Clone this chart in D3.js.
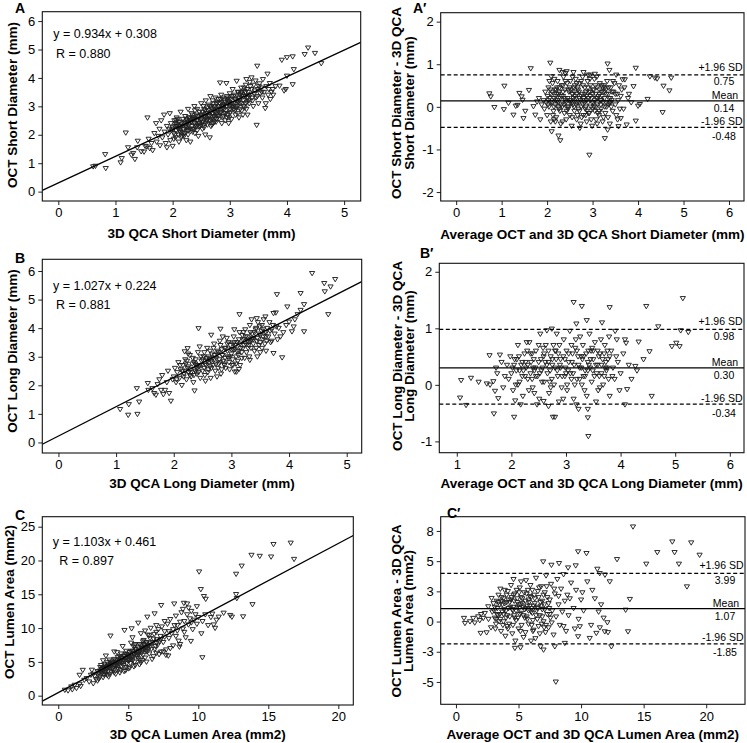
<!DOCTYPE html>
<html><head><meta charset="utf-8">
<script src="https://cdn.jsdelivr.net/npm/d3@7"></script>
<style>body{margin:0;background:#fff} svg text{font-family:"Liberation Sans",Arial,sans-serif;fill:#000}</style>
</head><body><svg id="c" width="747" height="743"></svg>
<script>
// ---------------- DATA ----------------
const panelLetters = ["A","A\u2032","B","B\u2032","C","C\u2032"];
const xTitles = ["3D QCA Short Diameter (mm)","Average OCT and 3D QCA Short Diameter (mm)","3D QCA Long Diameter (mm)","Average OCT and 3D QCA Long Diameter (mm)","3D QCA Lumen Area (mm2)","Average OCT and 3D QCA Lumen Area (mm2)"];
const yTitles = [["OCT Short Diameter (mm)"],["OCT Short Diameter - 3D QCA","Short Diameter (mm)"],["OCT Long Diameter (mm)"],["OCT Long Diameter - 3D QCA","Long Diameter (mm)"],["OCT Lumen Area (mm2)"],["OCT Lumen Area - 3D QCA","Lumen Area (mm2)"]];
const fitSlopes = [0.934, 1.027, 1.103];
const fitIntercepts = [0.308, 0.224, 0.461];
const fitR = ["0.880","0.881","0.897"];
const fitText = ["y = 0.934x + 0.308","y = 1.027x + 0.224","y = 1.103x + 0.461"];
const baMean = [0.14, 0.30, 1.07];
const baUpper = [0.75, 0.98, 3.99];
const baLower = [-0.48, -0.34, -1.85];
const baMeanText = ["0.14","0.30","1.07"];
const baUpperText = ["0.75","0.98","3.99"];
const baLowerText = ["-0.48","-0.34","-1.85"];
const ticksAx = [0,1,2,3,4,5], ticksAy = [0,1,2,3,4,5,6];
const ticksA2x = [0,1,2,3,4,5,6], ticksA2y = [-2,-1,0,1,2];
const ticksBx = [0,1,2,3,4,5], ticksBy = [0,1,2,3,4,5,6];
const ticksB2x = [1,2,3,4,5,6], ticksB2y = [-1,0,1,2];
const ticksCx = [0,5,10,15,20], ticksCy = [0,5,10,15,20,25];
const ticksC2x = [0,5,10,15,20], ticksC2y = [-5,-2.5,0,2.5,5,7.5];

const aPoints = [[0.61,0.88],[0.65,0.9],[0.83,0.82],[0.82,1.31],[1.09,1.02],[1.11,1.17],[1.18,2.07],[1.22,1.55],[1.28,1.29],[1.31,1.35],[1.34,1.14],[1.39,1.78],[1.38,1.55],[1.45,1.41],[1.5,1.4],[1.52,1.6],[1.55,1.58],[1.56,2.6],[1.58,1.85],[1.6,1.52],[1.63,1.7],[1.65,1.45],[1.68,2.05],[1.71,2.4],[1.72,1.75],[1.75,1.95],[1.77,2.2],[1.78,1.62],[1.8,2.5],[1.82,1.9],[1.85,2.7],[1.86,2.1],[1.88,1.7],[1.9,2.3],[1.9,1.55],[1.92,2.0],[1.94,2.2],[1.95,2.75],[1.96,1.8],[1.97,2.4],[1.98,2.15],[2.0,1.6],[2.0,2.25],[2.02,2.05],[2.03,2.5],[2.04,2.3],[2.05,1.9],[2.06,2.15],[2.07,2.6],[2.08,2.35],[2.1,2.0],[2.1,2.2],[2.11,1.75],[2.12,2.45],[2.13,2.1],[2.14,2.8],[2.15,2.3],[2.16,1.95],[2.18,2.55],[2.19,2.2],[2.2,2.4],[2.21,2.05],[2.22,2.65],[2.23,2.3],[2.24,1.8],[2.25,2.5],[2.26,2.15],[2.27,2.9],[2.28,2.35],[2.3,2.6],[2.3,2.2],[2.31,1.75],[2.32,2.45],[2.33,2.75],[2.34,2.3],[2.35,2.1],[2.36,2.55],[2.38,3.0],[2.38,2.4],[2.4,2.25],[2.41,2.7],[2.42,2.5],[2.43,2.9],[2.44,2.35],[2.45,1.95],[2.46,2.6],[2.47,2.8],[2.48,2.3],[2.5,3.1],[2.5,2.55],[2.51,2.7],[2.52,2.2],[2.53,2.45],[2.55,2.9],[2.56,2.6],[2.57,2.0],[2.58,3.2],[2.59,2.75],[2.6,2.5],[2.61,2.35],[2.62,2.85],[2.63,3.05],[2.64,2.65],[2.65,1.9],[2.66,3.35],[2.67,2.95],[2.68,2.55],[2.7,2.75],[2.7,3.2],[2.71,2.4],[2.72,3.0],[2.73,2.85],[2.74,2.6],[2.75,3.3],[2.76,2.45],[2.77,3.1],[2.78,2.9],[2.79,2.7],[2.8,3.25],[2.81,2.55],[2.82,3.0],[2.83,3.83],[2.84,2.8],[2.85,3.15],[2.86,2.4],[2.87,3.3],[2.88,2.95],[2.89,2.65],[2.9,3.2],[2.91,3.05],[2.92,2.5],[2.93,2.85],[2.94,3.81],[2.95,3.35],[2.96,2.7],[2.97,3.1],[2.98,2.4],[3.0,3.0],[3.0,3.45],[3.01,2.8],[3.02,3.25],[3.03,2.55],[3.05,3.6],[3.06,3.1],[3.07,2.9],[3.08,3.4],[3.1,2.7],[3.11,3.2],[3.12,3.89],[3.13,3.0],[3.15,3.5],[3.16,2.6],[3.17,3.3],[3.18,3.1],[3.2,3.65],[3.21,2.85],[3.22,3.4],[3.24,3.2],[3.25,3.55],[3.26,2.95],[3.28,3.75],[3.29,3.95],[3.3,3.3],[3.31,2.7],[3.32,3.5],[3.34,3.1],[3.35,3.85],[3.36,3.4],[3.38,4.01],[3.38,3.6],[3.4,3.2],[3.41,3.0],[3.42,3.75],[3.43,3.45],[3.45,3.9],[3.46,3.3],[3.47,2.34],[3.48,4.42],[3.49,3.6],[3.5,3.1],[3.52,3.8],[3.53,3.45],[3.55,3.65],[3.57,3.3],[3.58,3.95],[3.6,3.5],[3.62,2.93],[3.63,3.1],[3.64,3.7],[3.66,4.14],[3.67,3.4],[3.68,3.6],[3.7,3.81],[3.71,3.25],[3.73,3.5],[3.75,3.6],[3.76,3.4],[3.8,3.7],[3.87,3.72],[3.91,4.63],[3.95,3.55],[3.98,3.6],[4.0,4.07],[4.0,4.72],[4.1,3.77],[4.1,4.75],[4.12,4.3],[4.31,4.83],[4.37,5.06],[4.49,4.87],[4.6,4.51],[2.05,2.4],[2.12,2.3],[2.18,2.1],[2.25,2.25],[2.28,2.6],[2.33,2.45],[2.37,2.2],[2.4,2.55],[2.44,2.65],[2.47,2.4],[2.52,2.8],[2.54,2.35],[2.58,2.6],[2.6,2.95],[2.63,2.7],[2.66,2.5],[2.69,2.9],[2.71,3.1],[2.74,2.8],[2.77,2.55],[2.8,3.0],[2.83,2.75],[2.85,3.4],[2.87,2.6],[2.9,2.9],[2.92,3.15],[2.95,2.6],[2.97,3.3],[3.0,2.75],[3.03,3.1],[3.06,3.35],[3.09,2.85],[3.12,3.15],[3.15,3.3],[3.18,2.9],[3.21,3.5],[3.24,3.0],[3.27,3.35],[3.3,3.6],[3.33,3.2],[3.36,3.7],[3.39,3.3],[3.44,3.55],[3.48,3.35],[3.51,3.7],[3.56,3.5],[2.02,1.85],[2.09,2.55],[2.15,1.9],[2.21,2.45],[2.27,2.0],[2.34,2.6],[2.39,2.85],[2.43,2.15],[2.49,2.5],[2.55,2.25],[2.61,2.55],[2.67,2.3],[2.73,2.45],[2.79,3.15],[2.86,3.0],[2.93,2.75],[2.99,3.15],[3.04,2.95],[3.14,2.75],[3.19,3.45],[3.23,2.7],[3.28,3.1]];
const aPointsCore = [[2.01,2.2],[2.04,2.0],[2.07,2.3],[2.1,2.45],[2.13,2.2],[2.16,2.35],[2.19,2.0],[2.22,2.25],[2.25,2.4],[2.28,2.15],[2.31,2.5],[2.34,2.2],[2.37,2.6],[2.4,2.35],[2.43,2.5],[2.46,2.3],[2.49,2.7],[2.52,2.45],[2.55,2.65],[2.58,2.4],[2.61,2.75],[2.64,2.5],[2.67,2.8],[2.7,2.6],[2.73,2.95],[2.76,2.7],[2.79,2.85],[2.82,3.1],[2.85,2.8],[2.88,3.05],[2.91,2.75],[2.94,3.0],[2.97,3.2],[3.0,2.9],[3.03,3.35],[3.06,3.0],[3.09,3.25],[3.12,2.95],[3.15,3.15],[3.18,3.4],[3.21,3.1],[3.24,3.35],[3.27,3.5],[3.3,3.15],[3.33,3.4],[2.06,2.5],[2.2,1.95],[2.35,2.7],[2.5,2.35],[2.65,3.0],[2.8,2.65],[2.95,3.25],[3.1,2.95],[3.25,3.65],[2.12,2.15],[2.27,2.45],[2.42,2.3],[2.57,2.85],[2.72,2.65],[2.87,2.9],[3.02,3.05],[3.17,3.2],[3.32,3.3],[2.24,2.55],[2.39,2.05],[2.54,3.0],[2.69,2.35],[2.84,3.25],[2.99,2.6],[3.14,3.5],[3.29,2.9]];

const a2Points = [[0.73,0.31],[0.76,0.24],[0.84,-0.01],[1.06,0.49],[1.05,-0.06],[1.15,0.09],[1.26,-0.19],[1.31,0.02],[1.35,0.04],[1.39,0.32],[1.44,0.24],[1.46,0.16],[1.48,-0.27],[1.52,-0.1],[1.6,0.39],[1.64,0.9],[1.7,0.01],[1.74,-0.19],[1.78,0.12],[1.82,0.2],[1.85,-0.3],[1.88,0.05],[2.07,1.03],[2.09,0.71],[2.1,-0.58],[2.18,-0.35],[2.25,-0.68],[2.29,-0.79],[2.27,0.86],[2.34,0.81],[2.4,0.79],[2.43,0.83],[2.58,0.81],[2.93,-1.13],[2.8,0.81],[2.95,0.75],[3.05,0.77],[3.09,0.7],[3.33,1.01],[3.37,0.86],[3.27,-0.74],[3.33,-0.54],[3.52,0.75],[3.66,0.64],[3.71,0.64],[3.9,0.48],[3.95,-0.33],[3.95,0.91],[3.75,-0.42],[3.57,-0.46],[3.62,-0.27],[4.0,0.02],[4.04,0.06],[4.21,0.18],[4.26,0.71],[4.37,0.68],[4.42,0.66],[4.56,0.49],[4.54,-0.13],[4.69,0.38],[4.73,0.68],[3.8,0.3],[3.85,0.1],[3.7,0.45],[3.68,-0.05],[3.78,0.2],[1.92,0.15],[1.94,-0.05],[1.96,0.35],[1.98,0.1],[2.0,-0.2],[2.01,0.25],[2.03,0.45],[2.04,0.0],[2.06,0.2],[2.08,-0.35],[2.09,0.3],[2.11,0.1],[2.12,0.55],[2.14,-0.1],[2.15,0.2],[2.17,0.4],[2.18,0.05],[2.2,-0.25],[2.21,0.3],[2.23,0.6],[2.24,0.1],[2.26,-0.05],[2.27,0.35],[2.29,0.2],[2.3,-0.4],[2.32,0.5],[2.33,0.0],[2.35,0.25],[2.36,0.7],[2.38,-0.15],[2.39,0.4],[2.41,0.1],[2.42,-0.3],[2.44,0.55],[2.45,0.2],[2.47,0.0],[2.48,0.35],[2.5,-0.2],[2.51,0.6],[2.53,0.15],[2.54,-0.45],[2.56,0.3],[2.57,0.05],[2.59,0.45],[2.6,-0.1],[2.62,0.25],[2.63,0.65],[2.65,-0.3],[2.66,0.1],[2.68,0.4],[2.69,-0.05],[2.71,0.2],[2.72,0.55],[2.74,-0.4],[2.75,0.0],[2.77,0.3],[2.78,0.7],[2.8,-0.2],[2.81,0.15],[2.83,0.45],[2.84,-0.05],[2.86,0.25],[2.87,-0.35],[2.89,0.6],[2.9,0.1],[2.92,0.35],[2.93,-0.15],[2.95,0.5],[2.96,0.0],[2.98,0.2],[2.99,-0.45],[3.01,0.4],[3.02,0.1],[3.04,0.65],[3.05,-0.1],[3.07,0.3],[3.08,-0.3],[3.1,0.45],[3.11,0.05],[3.13,0.25],[3.14,-0.2],[3.16,0.55],[3.17,0.15],[3.19,-0.05],[3.2,0.35],[3.22,-0.35],[3.23,0.1],[3.25,0.5],[3.26,0.2],[3.28,-0.15],[3.29,0.4],[3.31,0.0],[3.32,0.6],[3.34,-0.25],[3.35,0.3],[3.37,0.1],[3.38,-0.4],[3.4,0.45],[3.42,0.15],[3.44,-0.1],[3.46,0.35],[3.48,0.55],[3.5,0.05],[3.52,-0.2],[3.54,0.3],[3.56,0.15],[3.58,0.5],[3.6,-0.05],[3.62,0.25],[3.64,0.4],[2.02,0.05],[2.07,0.4],[2.13,-0.2],[2.19,0.15],[2.22,0.45],[2.28,-0.1],[2.31,0.25],[2.37,0.05],[2.4,0.6],[2.46,-0.05],[2.49,0.15],[2.52,0.4],[2.55,-0.25],[2.58,0.2],[2.61,0.5],[2.64,0.05],[2.67,-0.2],[2.7,0.35],[2.73,0.15],[2.76,-0.25],[2.79,0.5],[2.82,0.1],[2.85,0.35],[2.88,-0.1],[2.91,0.2],[2.94,0.65],[2.97,-0.3],[3.0,0.3],[3.03,0.0],[3.06,0.5],[3.09,0.2],[3.12,-0.15],[3.15,0.4],[3.18,0.05],[3.21,0.25],[3.24,-0.25],[3.27,0.45],[3.3,0.1],[3.36,0.2],[3.41,0.0],[3.45,0.6],[3.5,0.3],[3.55,-0.3],[2.16,0.65],[2.34,-0.35],[2.56,0.7],[2.72,-0.5],[2.9,0.75],[3.1,-0.4],[2.25,0.0],[2.65,0.3],[2.85,0.0]];
const a2PointsCore = [[2.03,0.15],[2.07,0.1],[2.11,0.35],[2.15,0.0],[2.19,0.25],[2.23,0.15],[2.27,0.45],[2.31,0.05],[2.35,0.35],[2.39,0.2],[2.43,-0.1],[2.47,0.4],[2.51,0.1],[2.55,0.3],[2.59,0.0],[2.63,0.2],[2.67,0.45],[2.71,-0.1],[2.75,0.25],[2.79,0.05],[2.83,0.3],[2.87,0.15],[2.91,-0.15],[2.95,0.35],[2.99,0.1],[3.03,0.4],[3.07,0.0],[3.11,0.2],[3.15,0.3],[3.19,0.15],[3.23,0.45],[3.27,0.0],[3.31,0.3],[3.35,0.45],[3.39,0.2],[3.43,0.35],[2.05,0.6],[2.25,0.3],[2.45,0.0],[2.65,0.55],[2.85,-0.2],[3.05,0.15],[3.25,0.35],[2.15,-0.3],[2.35,0.5],[2.55,0.1],[2.75,0.6],[2.95,0.25],[3.15,-0.1],[3.35,0.05],[2.2,0.4],[2.4,0.15],[2.6,0.35],[2.8,0.2],[3.0,-0.05],[3.2,0.5],[3.4,0.1],[2.5,0.45],[2.7,0.1],[2.9,0.45]];

const bPoints = [[1.07,1.16],[1.21,0.96],[1.22,1.33],[1.37,0.99],[1.36,1.89],[1.4,1.42],[1.55,2.07],[1.56,1.83],[1.63,1.89],[1.66,1.72],[1.69,1.66],[1.72,2.03],[1.78,1.83],[1.82,1.68],[1.85,1.83],[1.92,1.72],[1.95,1.45],[1.75,2.2],[1.8,2.35],[1.88,2.1],[1.9,2.5],[1.98,2.2],[2.36,1.81],[2.43,3.99],[2.19,3.18],[2.24,3.29],[2.65,3.76],[2.81,3.97],[3.14,4.48],[3.09,2.47],[3.13,2.56],[3.03,2.71],[3.06,2.47],[3.44,4.34],[3.59,4.4],[3.79,5.18],[3.73,4.52],[3.77,4.54],[3.88,2.97],[3.73,3.12],[3.97,4.75],[4.05,3.88],[4.08,4.05],[4.2,5.22],[4.26,3.88],[4.26,4.83],[4.2,4.63],[4.15,4.48],[4.0,4.22],[4.4,5.92],[4.61,5.57],[4.62,5.28],[4.72,5.45],[4.8,5.71],[4.68,4.48],[3.32,2.88],[3.5,3.15],[3.85,3.7],[3.95,4.1],[3.9,3.85],[4.1,4.3],[3.82,4.0],[3.7,3.55],[3.6,3.2],[2.0,2.3],[2.02,2.6],[2.04,2.1],[2.06,2.45],[2.08,2.8],[2.1,2.25],[2.12,2.55],[2.14,2.0],[2.16,2.7],[2.18,2.4],[2.2,2.9],[2.22,2.2],[2.24,2.6],[2.26,2.45],[2.28,3.05],[2.3,2.3],[2.32,2.75],[2.34,2.1],[2.36,2.55],[2.38,2.9],[2.4,2.4],[2.42,3.15],[2.44,2.65],[2.46,2.25],[2.48,2.85],[2.5,2.5],[2.52,3.0],[2.54,2.35],[2.56,2.7],[2.58,3.3],[2.6,2.55],[2.62,2.9],[2.64,2.25],[2.66,3.1],[2.68,2.7],[2.7,3.45],[2.72,2.5],[2.74,2.95],[2.76,3.2],[2.78,2.75],[2.8,3.55],[2.82,2.4],[2.84,3.05],[2.86,2.85],[2.88,3.3],[2.9,2.6],[2.92,3.65],[2.94,3.0],[2.96,2.8],[2.98,3.4],[3.0,3.1],[3.02,2.9],[3.04,3.7],[3.06,3.25],[3.08,2.75],[3.1,3.5],[3.12,3.05],[3.14,3.85],[3.16,3.3],[3.18,2.95],[3.2,3.6],[3.22,3.4],[3.24,3.95],[3.26,3.15],[3.28,3.7],[3.3,3.5],[3.32,4.1],[3.34,3.3],[3.36,3.8],[3.38,3.6],[3.4,3.2],[3.42,3.95],[3.44,3.55],[3.46,4.2],[3.48,3.4],[3.5,3.75],[3.52,3.9],[3.54,3.6],[3.56,4.3],[3.58,3.45],[3.6,3.85],[3.62,4.0],[3.64,3.7],[3.66,4.2],[3.68,3.5],[3.7,3.95],[3.72,4.1],[3.75,3.8],[3.78,4.05],[3.8,3.6],[2.05,2.2],[2.11,2.7],[2.17,2.3],[2.23,2.85],[2.29,2.55],[2.35,2.35],[2.41,2.7],[2.47,3.0],[2.53,2.6],[2.59,2.45],[2.65,2.85],[2.71,3.05],[2.77,2.6],[2.83,3.25],[2.89,2.95],[2.95,3.5],[3.01,2.7],[3.07,3.4],[3.13,3.2],[3.19,3.75],[3.25,3.45],[3.31,3.0],[3.37,3.65],[3.43,3.3],[3.49,4.05],[3.55,3.7],[3.61,3.55],[3.67,3.9],[2.25,3.1],[2.45,3.35],[2.55,2.15],[2.75,2.3],[2.85,3.7],[2.97,2.55],[3.05,3.95],[3.15,2.7],[3.35,4.3],[3.45,3.0],[2.15,2.5],[2.37,2.75],[2.57,2.95],[2.69,3.3],[2.79,2.9],[2.93,3.2],[3.03,3.25],[3.23,3.6],[3.33,3.85],[3.53,4.1],[2.63,2.65],[2.87,2.75],[3.11,2.85],[3.29,3.3]];
const bPointsCore = [[2.2,2.5],[2.25,2.65],[2.3,2.45],[2.35,2.8],[2.4,2.6],[2.45,2.7],[2.5,2.9],[2.55,2.75],[2.6,3.0],[2.65,2.6],[2.7,2.9],[2.75,3.1],[2.8,2.8],[2.85,3.05],[2.9,3.3],[2.95,2.95],[3.0,3.25],[3.05,3.5],[3.1,3.2],[3.15,3.45],[3.2,3.3],[3.25,3.7],[3.3,3.4],[3.35,3.6],[3.4,3.85],[3.45,3.65],[3.5,3.5],[3.55,3.95],[3.6,3.7],[2.28,2.35],[2.38,2.5],[2.48,2.7],[2.58,2.85],[2.68,2.95],[2.78,3.15],[2.88,2.7],[2.98,3.0],[3.08,3.0],[3.18,3.15],[3.28,3.55],[3.38,3.45],[3.48,3.8],[3.58,3.85],[2.33,2.95],[2.53,3.15],[2.73,2.75],[2.93,3.45],[3.13,3.6],[3.33,3.55],[3.53,3.3],[2.43,2.45],[2.63,3.2],[2.83,2.55],[3.03,3.45],[3.23,2.95],[3.43,4.0],[2.21,2.75],[2.61,2.8],[2.81,3.4],[3.21,3.85]];

const b2Points = [[1.06,-0.23],[1.08,0.08],[1.17,-0.36],[1.26,0.12],[1.4,0.05],[1.55,0.02],[1.61,0.0],[1.67,0.06],[1.7,-0.11],[1.6,0.52],[1.68,-0.51],[1.76,-0.24],[1.79,0.53],[1.72,0.3],[1.74,0.2],[1.82,0.4],[1.85,-0.05],[1.88,0.15],[2.05,-0.57],[2.07,-0.28],[2.59,-0.29],[2.68,-0.38],[2.76,-0.57],[2.8,-0.57],[2.74,0.99],[2.65,0.96],[3.14,1.46],[3.29,1.39],[3.19,1.08],[3.38,1.14],[3.4,-0.43],[3.4,-0.58],[3.41,-0.91],[3.23,-0.43],[3.66,1.1],[3.8,1.37],[3.9,0.95],[3.93,0.8],[4.08,0.8],[4.1,0.74],[4.33,0.76],[4.53,0.59],[4.47,1.39],[4.57,-0.2],[4.42,0.45],[4.27,0.33],[4.3,0.25],[4.08,-0.35],[4.69,1.03],[4.94,0.68],[5.02,0.74],[5.08,0.68],[5.1,0.96],[5.14,1.53],[5.24,0.93],[4.2,0.1],[4.15,0.35],[4.05,0.55],[3.98,-0.1],[4.0,0.2],[3.95,0.4],[4.12,-0.08],[1.92,0.35],[1.95,0.1],[1.98,0.5],[2.0,0.2],[2.03,-0.1],[2.06,0.45],[2.09,0.25],[2.12,0.7],[2.15,0.05],[2.18,0.35],[2.21,-0.2],[2.24,0.55],[2.27,0.3],[2.3,0.1],[2.33,0.75],[2.36,0.4],[2.39,-0.05],[2.42,0.25],[2.45,0.6],[2.48,0.15],[2.51,-0.25],[2.54,0.45],[2.57,0.3],[2.6,0.05],[2.63,0.7],[2.66,0.2],[2.69,-0.15],[2.72,0.5],[2.75,0.35],[2.78,0.0],[2.81,0.6],[2.84,0.25],[2.87,-0.3],[2.9,0.45],[2.93,0.15],[2.96,0.8],[2.99,0.3],[3.02,-0.1],[3.05,0.55],[3.08,0.2],[3.11,0.4],[3.14,-0.25],[3.17,0.65],[3.2,0.1],[3.23,0.35],[3.26,0.85],[3.29,0.0],[3.32,0.5],[3.35,0.25],[3.38,-0.2],[3.41,0.6],[3.44,0.3],[3.47,0.05],[3.5,0.45],[3.53,0.75],[3.56,0.2],[3.59,-0.1],[3.62,0.55],[3.65,0.35],[3.68,0.0],[3.71,0.7],[3.74,0.25],[3.77,0.45],[3.8,-0.2],[3.83,0.6],[3.86,0.3],[3.89,0.1],[3.92,0.5],[2.02,0.3],[2.08,0.0],[2.14,0.5],[2.2,0.15],[2.26,0.4],[2.32,-0.1],[2.38,0.55],[2.44,0.3],[2.5,0.7],[2.56,0.05],[2.62,0.4],[2.68,0.6],[2.74,0.1],[2.8,0.3],[2.86,0.55],[2.92,-0.05],[2.98,0.45],[3.04,0.25],[3.1,0.7],[3.16,0.0],[3.22,0.5],[3.28,0.3],[3.34,-0.1],[3.4,0.4],[3.46,0.6],[3.52,0.15],[3.58,0.35],[3.64,0.8],[3.7,0.15],[3.76,0.6],[2.17,-0.35],[2.35,0.2],[2.47,-0.35],[2.53,0.9],[2.71,0.25],[2.83,0.9],[2.95,-0.25],[3.07,0.95],[3.19,-0.35],[3.31,0.7],[3.43,0.9],[3.55,-0.3],[3.67,0.45],[3.79,0.85],[2.29,0.6],[2.41,0.45],[2.59,0.5],[2.77,0.7],[2.89,0.35],[3.01,0.6],[3.13,0.2],[3.25,0.1],[3.37,0.55],[3.49,0.25],[3.61,0.15],[3.73,0.4]];
const b2PointsCore = [[2.05,0.35],[2.1,0.45],[2.15,0.25],[2.2,0.4],[2.25,0.15],[2.3,0.35],[2.35,0.55],[2.4,0.3],[2.45,0.15],[2.5,0.4],[2.55,0.25],[2.6,0.55],[2.65,0.35],[2.7,0.05],[2.75,0.45],[2.8,0.6],[2.85,0.15],[2.9,0.3],[2.95,0.5],[3.0,0.2],[3.05,0.4],[3.1,0.1],[3.15,0.35],[3.2,0.6],[3.25,0.3],[3.3,0.45],[3.35,0.15],[3.4,0.25],[3.45,0.45],[3.5,0.6],[3.55,0.35],[3.6,0.5],[3.65,0.2],[3.7,0.55],[3.75,0.3],[3.8,0.5],[2.12,0.0],[2.28,0.75],[2.42,-0.15],[2.58,0.65],[2.72,-0.05],[2.88,0.7],[3.02,0.0],[3.18,0.8],[3.32,0.15],[3.48,0.65],[3.62,-0.05],[3.78,0.1],[2.22,0.25],[2.38,0.1],[2.52,0.2],[2.68,0.4],[2.82,0.45],[2.98,0.15],[3.12,0.55],[3.28,0.5],[3.42,0.35],[3.58,0.6],[3.72,0.3],[3.85,0.15]];

const cPoints = [[0.47,0.84],[0.7,0.74],[0.93,1.33],[1.0,0.9],[1.17,1.57],[1.3,1.1],[1.52,1.72],[1.6,1.4],[1.86,2.31],[2.03,2.56],[1.75,3.78],[1.52,3.05],[2.21,2.06],[2.33,3.05],[2.8,2.2],[2.5,1.8],[16.6,22.6],[15.37,22.4],[16.84,20.2],[15.2,20.55],[14.39,20.65],[13.8,20.8],[13.1,19.2],[12.7,18.0],[10.06,18.34],[10.18,15.73],[12.7,15.0],[12.75,14.4],[10.4,14.7],[10.53,14.3],[13.87,13.5],[13.2,11.7],[12.28,11.9],[12.4,11.65],[11.81,12.24],[11.46,11.65],[11.3,11.2],[11.1,10.5],[11.2,10.0],[10.29,5.65],[9.47,8.06],[10.22,9.19],[8.65,7.22],[8.7,7.6],[7.35,6.49],[7.69,6.0],[7.86,5.9],[4.73,9.68],[5.24,9.93],[5.71,10.76],[3.73,8.85],[6.36,11.65],[6.88,12.14],[7.35,13.37],[8.28,13.6],[8.97,13.7],[9.2,13.6],[9.9,13.2],[10.5,12.0],[10.9,11.6],[11.0,12.1],[10.7,10.4],[10.3,11.0],[2.6,2.9],[2.8,3.6],[2.9,2.5],[3.0,4.2],[3.1,3.3],[3.2,2.7],[3.3,4.6],[3.4,3.8],[3.5,3.0],[3.6,4.3],[3.7,5.0],[3.8,3.5],[3.9,4.0],[4.0,5.4],[4.1,3.2],[4.2,4.6],[4.3,3.9],[4.4,5.8],[4.5,4.3],[4.6,5.1],[4.7,3.6],[4.8,6.2],[4.9,4.8],[5.0,5.5],[5.1,4.1],[5.2,6.6],[5.3,5.2],[5.4,7.2],[5.5,4.5],[5.6,6.0],[5.7,5.5],[5.8,7.6],[5.9,4.9],[6.0,6.7],[6.1,8.2],[6.2,5.6],[6.3,7.1],[6.4,9.0],[6.5,6.2],[6.6,7.7],[6.7,5.4],[6.8,8.4],[6.9,6.9],[7.0,9.4],[7.1,7.5],[7.2,6.1],[7.3,8.8],[7.4,10.2],[7.5,7.9],[7.6,9.5],[7.7,6.8],[7.8,10.6],[7.9,8.5],[8.0,11.3],[8.1,9.2],[8.2,7.4],[8.3,10.4],[8.4,11.8],[8.5,9.6],[8.6,8.1],[8.7,10.9],[8.8,12.3],[8.9,9.9],[9.0,11.0],[9.1,8.6],[9.2,12.0],[9.3,10.5],[9.4,11.4],[9.5,12.5],[9.6,9.8],[9.7,11.2],[9.8,12.0],[9.9,10.6],[10.0,11.6],[2.5,3.2],[2.7,2.4],[2.85,3.1],[3.05,3.6],[3.15,4.0],[3.25,3.1],[3.35,3.5],[3.45,4.2],[3.55,3.6],[3.65,3.2],[3.75,4.5],[3.85,4.8],[3.95,3.7],[4.05,4.4],[4.15,5.0],[4.25,4.1],[4.35,4.7],[4.45,3.8],[4.55,5.5],[4.65,4.5],[4.75,5.8],[4.85,4.2],[4.95,5.2],[5.05,6.0],[5.15,4.8],[5.25,5.6],[5.35,6.3],[5.45,5.0],[5.55,6.8],[5.65,5.8],[5.75,6.4],[5.85,5.3],[5.95,7.2],[6.05,6.0],[6.15,6.9],[6.25,7.8],[6.35,6.5],[6.45,7.4],[6.55,8.5],[6.65,6.9],[6.75,7.9],[6.85,9.1],[6.95,7.3],[7.05,8.3],[7.15,9.8],[7.25,8.0],[3.0,2.8],[3.5,4.9],[4.0,3.4],[4.5,6.2],[5.0,4.0],[5.5,7.6],[6.0,5.2],[6.5,8.9],[7.0,6.3],[3.2,5.2],[4.2,6.4],[5.2,7.8],[6.2,9.6],[4.8,3.7],[5.8,4.6],[6.8,5.8],[3.6,2.8],[4.4,3.4],[5.4,4.3],[6.3,5.0],[7.5,6.5],[8.0,7.0],[8.4,8.8],[9.0,9.4],[9.5,10.8],[8.9,12.8],[9.3,13.0],[7.6,11.0],[7.0,10.4],[6.6,10.0],[5.9,9.2],[5.3,8.6],[4.6,7.3],[4.0,6.5],[3.4,5.9],[2.4,3.8]];
const cPointsCore = [[2.9,3.4],[3.0,3.7],[3.1,3.9],[3.2,3.6],[3.3,4.1],[3.4,4.4],[3.5,4.0],[3.6,4.6],[3.7,4.2],[3.8,4.7],[3.9,5.0],[4.0,4.6],[4.1,5.2],[4.2,4.9],[4.3,5.4],[4.4,5.0],[4.5,5.6],[4.6,5.3],[4.7,5.9],[4.8,5.5],[4.9,6.1],[5.0,5.8],[5.1,6.4],[5.2,5.9],[5.3,6.6],[5.4,6.1],[5.5,6.9],[5.6,6.5],[5.7,7.1],[5.8,6.6],[5.9,7.4],[6.0,7.0],[6.1,7.6],[6.2,7.1],[6.3,7.9],[6.4,7.4],[3.05,4.5],[3.35,3.2],[3.65,5.3],[3.95,4.3],[4.25,5.7],[4.55,4.8],[4.85,6.6],[5.15,5.4],[5.45,7.4],[5.75,6.1],[6.05,8.0],[6.35,6.8],[3.25,4.1],[3.55,4.4],[3.85,4.1],[4.15,4.5],[4.45,5.2],[4.75,5.1],[5.05,5.2],[5.35,5.7],[5.65,6.2],[5.95,6.3],[6.25,6.6],[6.55,7.2],[7.0,7.8],[7.3,8.3],[7.6,8.7],[7.9,9.5],[8.2,9.8],[8.5,10.4]];

const c2Points = [[14.15,7.85],[17.29,6.61],[18.8,6.53],[16.09,5.73],[17.47,5.73],[19.47,5.51],[15.21,4.77],[17.82,4.77],[18.46,2.89],[9.76,5.79],[10.43,5.65],[6.97,4.96],[7.63,4.68],[8.24,4.82],[12.87,5.15],[8.96,4.46],[9.57,4.63],[11.91,3.86],[12.29,3.31],[11.3,4.35],[11.49,3.99],[13.9,1.85],[13.56,0.96],[13.75,-0.83],[12.1,-0.08],[12.15,-0.9],[11.89,-0.83],[12.42,-2.07],[7.98,-4.99],[4.71,-2.2],[5.16,-2.15],[6.76,-2.07],[7.0,-2.34],[7.9,-2.07],[8.7,-1.79],[9.76,-1.24],[9.9,-0.41],[10.69,-1.38],[11.22,-0.96],[0.64,0.28],[0.72,-0.14],[1.12,0.0],[1.38,0.28],[1.78,0.41],[1.97,-0.96],[2.45,-0.91],[2.18,0.28],[2.58,1.24],[2.85,1.93],[2.31,0.69],[1.5,-0.1],[1.9,0.1],[2.0,0.6],[10.9,2.6],[11.1,1.9],[11.4,0.8],[11.6,1.4],[10.5,3.3],[10.2,0.9],[11.8,0.3],[10.8,-0.3],[11.5,-0.5],[2.6,0.2],[2.8,-0.5],[2.9,0.8],[3.0,1.5],[3.1,0.3],[3.2,-0.2],[3.3,1.1],[3.4,2.2],[3.5,0.6],[3.6,-0.8],[3.7,1.4],[3.8,0.0],[3.9,2.6],[4.0,0.9],[4.1,-0.4],[4.2,1.8],[4.3,0.4],[4.4,3.0],[4.5,-1.0],[4.6,1.2],[4.7,2.3],[4.8,0.1],[4.9,1.6],[5.0,-0.6],[5.1,2.8],[5.2,0.7],[5.3,1.9],[5.4,-1.3],[5.5,0.3],[5.6,3.4],[5.7,1.3],[5.8,-0.2],[5.9,2.1],[6.0,0.8],[6.1,2.6],[6.2,-0.7],[6.3,1.5],[6.4,3.6],[6.5,0.2],[6.6,2.0],[6.7,-1.0],[6.8,2.9],[6.9,1.0],[7.0,0.0],[7.1,2.4],[7.2,3.8],[7.3,0.6],[7.4,-0.5],[7.5,1.8],[7.6,3.1],[7.7,0.9],[7.8,-1.1],[7.9,2.3],[8.0,0.4],[8.1,3.5],[8.2,1.4],[8.3,-0.3],[8.4,2.7],[8.5,0.8],[8.6,3.9],[8.7,1.7],[8.8,-0.8],[8.9,2.2],[9.0,0.5],[9.2,3.2],[9.4,1.1],[9.6,2.6],[9.8,0.2],[10.0,1.8],[3.05,0.9],[3.25,1.7],[3.45,0.0],[3.65,2.0],[3.85,1.0],[4.05,1.6],[4.25,-0.2],[4.45,2.0],[4.65,0.5],[4.85,2.6],[5.05,1.1],[5.25,-0.3],[5.45,2.4],[5.65,0.4],[5.85,1.6],[6.05,-0.3],[6.25,2.2],[6.45,0.9],[6.65,2.8],[6.85,-0.2],[7.05,1.4],[7.25,2.9],[7.45,1.1],[7.65,-0.1],[7.85,2.7],[3.15,-0.6],[3.55,2.7],[3.95,-1.2],[4.35,1.2],[4.75,-1.6],[5.15,1.4],[5.55,-0.9],[5.95,3.0],[6.35,-1.4],[6.75,1.6],[7.15,-0.9],[7.55,0.3],[4.15,2.5],[4.55,0.9],[4.95,0.3],[5.35,1.2],[5.75,2.6],[6.15,0.1],[6.55,1.2],[3.35,0.5],[3.75,-0.3],[4.6,3.5],[5.2,3.3],[6.0,-1.6],[3.8,1.9],[4.9,1.9],[5.8,0.9],[6.9,0.4],[8.2,2.1],[8.6,-0.4],[9.1,1.9],[9.5,-0.6],[10.1,2.4]];
const c2PointsCore = [[3.1,1.2],[3.3,0.6],[3.5,1.4],[3.7,0.8],[3.9,1.5],[4.1,0.5],[4.3,1.6],[4.5,1.0],[4.7,0.3],[4.9,1.2],[5.1,0.6],[5.3,1.5],[5.5,1.0],[5.7,0.2],[5.9,1.3],[6.1,0.7],[6.3,1.9],[6.5,1.1],[6.7,0.5],[6.9,1.7],[7.1,1.0],[7.3,2.0],[7.5,0.6],[3.2,0.2],[3.6,1.7],[4.0,0.3],[4.4,1.8],[4.8,0.9],[5.2,2.0],[5.6,1.1],[6.0,2.0],[6.4,0.5],[6.8,1.3],[7.2,-0.3],[3.4,1.6],[3.8,0.6],[4.2,1.1],[4.6,2.2],[5.0,1.4],[5.4,0.5],[5.8,1.8],[6.2,1.3],[6.6,-0.4],[7.0,2.2],[7.4,1.5],[4.15,-0.6],[4.65,1.7],[5.15,-0.8],[5.65,2.3],[6.15,-0.8],[3.55,0.2],[4.05,2.2],[4.55,-0.3],[5.05,2.4],[5.55,1.7],[6.05,1.1],[6.55,2.5],[7.05,-0.5]];

// ---------------- LAYOUT ----------------
const layout = [
  {frame:{l:42.3,r:360.7,t:11.7,b:201}, xDom:[-0.28,5.29], yDom:[-0.33,6.33], letter:[15,13], xTitleY:237.5, yTitle:{cx:[12.5],cy:105}},
  {frame:{l:440.7,r:744,t:12.7,b:201}, xDom:[-0.34,6.33], yDom:[-2.21,2.21], letter:[413,13], xTitleY:239, yTitle:{cx:[396,409],cy:103}},
  {frame:{l:42.3,r:361.7,t:259.3,b:453}, xDom:[-0.28,5.26], yDom:[-0.37,6.41], letter:[15,263], xTitleY:488, yTitle:{cx:[12.5],cy:351}},
  {frame:{l:439.3,r:744,t:263.3,b:452.7}, xDom:[0.68,6.26], yDom:[-1.2,2.15], letter:[420,258], xTitleY:488, yTitle:{cx:[397,409],cy:356}},
  {frame:{l:42.3,r:353.3,t:516.7,b:705}, xDom:[-1.14,21.07], yDom:[-1.38,26.48], letter:[15,520], xTitleY:738.5, yTitle:{cx:[9.5],cy:602}},
  {frame:{l:440.7,r:745,t:516.7,b:704.3}, xDom:[-1.22,23.1], yDom:[-6.85,8.68], letter:[447,518], xTitleY:738.5, yTitle:{cx:[396,408],cy:611}}
];
const eqPos = [[53.3,38.3,56,58.3],[53,290,56,309.3],[52.7,546,59.3,565]];
const baAboveOff = [-4,-2,-2.5], baBelowOff = [10.5,11.5,12.5];

const svg = d3.select('#c');
svg.append('rect').attr('width',747).attr('height',743).attr('fill','#fff');
const tri = 'M-2.6,-1.8L2.6,-1.8L0,2.5Z';
const allPoints = [aPoints.concat(aPointsCore),a2Points.concat(a2PointsCore),bPoints.concat(bPointsCore),b2Points.concat(b2PointsCore),cPoints.concat(cPointsCore),c2Points.concat(c2PointsCore)];
const allXT = [ticksAx,ticksA2x,ticksBx,ticksB2x,ticksCx,ticksC2x];
const allYT = [ticksAy,ticksA2y,ticksBy,ticksB2y,ticksCy,ticksC2y];

layout.forEach((L,i)=>{
  const f = L.frame;
  const x = d3.scaleLinear().domain(L.xDom).range([f.l,f.r]);
  const y = d3.scaleLinear().domain(L.yDom).range([f.b,f.t]);
  const g = svg.append('g');
  const cid = 'clip'+i;
  svg.append('clipPath').attr('id',cid).append('rect').attr('x',f.l).attr('y',f.t).attr('width',f.r-f.l).attr('height',f.b-f.t);
  const fmt = i===5 ? (d=>d.toFixed(0)) : (d=>String(d));
  const xa = g.append('g').attr('transform',`translate(0,${f.b})`)
    .call(d3.axisBottom(x).tickValues(allXT[i]).tickSize(4).tickSizeOuter(0).tickPadding(3).tickFormat(fmt));
  const ya = g.append('g').attr('transform',`translate(${f.l},0)`)
    .call(d3.axisLeft(y).tickValues(allYT[i]).tickSize(4).tickSizeOuter(0).tickPadding(3).tickFormat(fmt));
  [xa,ya].forEach(a=>{
    a.select('.domain').remove();
    a.selectAll('line').attr('stroke','#222');
    a.selectAll('text').attr('font-size',13).attr('font-family','"Liberation Sans",Arial,sans-serif').attr('fill','#000');
  });
  g.append('g').attr('clip-path',`url(#${cid})`).selectAll('path').data(allPoints[i]).join('path')
    .attr('d',tri).attr('transform',d=>`translate(${x(d[0]).toFixed(2)},${y(d[1]).toFixed(2)})`)
    .attr('fill','none').attr('stroke','#222').attr('stroke-width',0.95);
  const k = Math.floor(i/2);
  if(i%2===0){
    const xs = L.xDom;
    g.append('line').attr('clip-path',`url(#${cid})`)
      .attr('x1',x(xs[0])).attr('y1',y(fitSlopes[k]*xs[0]+fitIntercepts[k]))
      .attr('x2',x(xs[1])).attr('y2',y(fitSlopes[k]*xs[1]+fitIntercepts[k]))
      .attr('stroke','#000').attr('stroke-width',1.3);
    const e = eqPos[k];
    g.append('text').attr('x',e[0]).attr('y',e[1]).attr('font-size',12.5).text(fitText[k]);
    g.append('text').attr('x',e[2]).attr('y',e[3]).attr('font-size',12.5).text('R = '+fitR[k]);
  } else {
    const lines = [[baUpper[k],'+1.96 SD',baUpperText[k],true],[baMean[k],'Mean',baMeanText[k],false],[baLower[k],'-1.96 SD',baLowerText[k],true]];
    lines.forEach(([v,lab,val,dash],j)=>{
      const yy = y(v);
      g.append('line').attr('x1',f.l).attr('x2',f.r).attr('y1',yy).attr('y2',yy)
        .attr('stroke','#000').attr('stroke-width',1.3).attr('stroke-dasharray',dash?'4,2.5':null);
      g.append('text').attr('x',dash?f.r-1.5:f.r-19).attr('y',yy+baAboveOff[j]).attr('text-anchor',dash?'end':'middle').attr('font-size',10.5).text(lab);
      g.append('text').attr('x',f.r-20).attr('y',yy+baBelowOff[j]).attr('text-anchor','middle').attr('font-size',10.5).text(val);
    });
  }
  g.append('rect').attr('x',f.l).attr('y',f.t).attr('width',f.r-f.l).attr('height',f.b-f.t)
    .attr('fill','none').attr('stroke','#111').attr('stroke-width',1.1);
  g.append('text').attr('x',(f.l+f.r)/2).attr('y',L.xTitleY).attr('text-anchor','middle')
    .attr('font-size',13.5).attr('font-weight','bold').text(xTitles[i]);
  yTitles[i].forEach((t,j)=>{
    g.append('text').attr('transform',`translate(${L.yTitle.cx[j]},${L.yTitle.cy}) rotate(-90)`)
      .attr('dy','0.35em').attr('text-anchor','middle').attr('font-size',13.5).attr('font-weight','bold').text(t);
  });
  g.append('text').attr('x',L.letter[0]).attr('y',L.letter[1]).attr('font-size',14).attr('font-weight','bold').text(panelLetters[i]);
});
</script>
</body></html>
